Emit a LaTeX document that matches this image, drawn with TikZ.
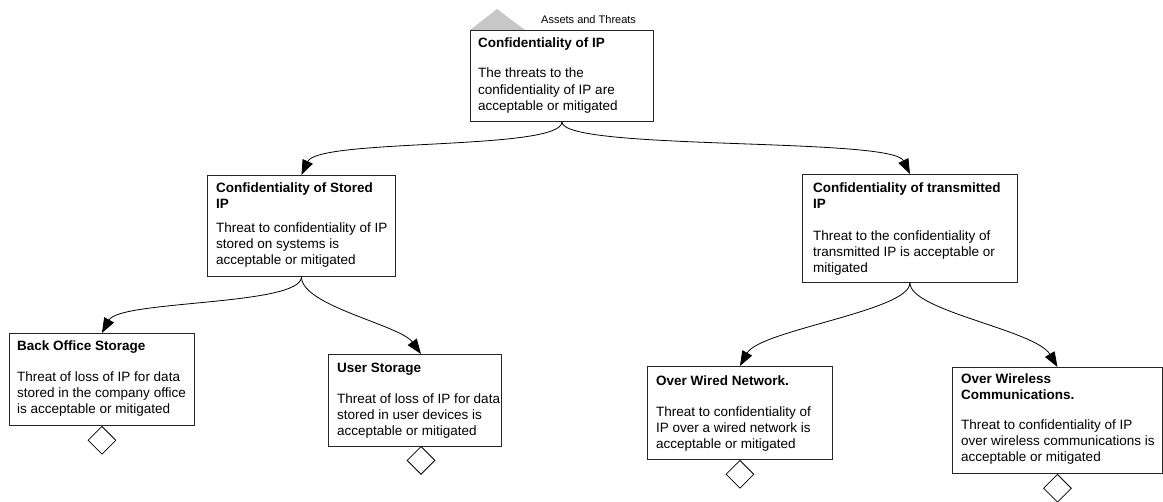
\documentclass[tikz,border=0pt]{standalone}
\usepackage{fontspec}
\setmainfont{Liberation Sans}
\usetikzlibrary{arrows.meta,shapes.geometric}
\begin{document}
\begin{tikzpicture}[x=1pt,y=-1pt,
  goalbox/.style={draw=black!85, line width=0.9pt, fill=white, inner sep=0pt, anchor=north west},
  % text nodes are placed by the baseline of their last line
  head/.style={anchor=base west, inner sep=0pt, align=left,
    font=\fontsize{13.5}{16}\selectfont\bfseries},
  body/.style={anchor=base west, inner sep=0pt, align=left,
    font=\fontsize{13.5}{16}\selectfont},
  link/.style={line width=0.8pt, -{Triangle[length=15pt,width=11pt]}},
  gate/.style={draw=black, diamond, aspect=1, line width=0.8pt, fill=white,
    minimum width=28pt, minimum height=28pt, inner sep=0pt, anchor=north}
]
\useasboundingbox (0,0) rectangle (1163,502);

% tab marker and caption above the root goal
\fill[black!22] (470,30) -- (497,9) -- (525,30) -- cycle;
\node[anchor=base west, inner sep=0pt, font=\fontsize{11}{13}\selectfont] (cap) at (541,24) {Assets and Threats};

% goal boxes
\node[goalbox, minimum width=183pt, minimum height=91pt]  (g0) at (470,30)  {};
\node[goalbox, minimum width=188pt, minimum height=101pt] (g1) at (207,175) {};
\node[goalbox, minimum width=215pt, minimum height=108pt] (g2) at (802,174) {};
\node[goalbox, minimum width=185pt, minimum height=92pt]  (g3) at (9,333)   {};
\node[goalbox, minimum width=173pt, minimum height=92pt]  (g4) at (328,354) {};
\node[goalbox, minimum width=185pt, minimum height=93pt]  (g5) at (647,366) {};
\node[goalbox, minimum width=210pt, minimum height=106pt] (g6) at (952,367) {};

% box texts
\node[head] (h0) at (478,47.7) {Confidentiality of IP};
\node[body, font=\fontsize{13.5}{16.7}\selectfont] (b0) at (478,111)
  {The threats to the\\confidentiality of IP are\\acceptable or mitigated};

\node[head] (h1) at (216,208.5) {Confidentiality of Stored\\IP};
\node[body] (b1) at (216,264.5) {Threat to confidentiality of IP\\stored on systems is\\acceptable or mitigated};

\node[head] (h2) at (813,209) {Confidentiality of transmitted\\IP};
\node[body] (b2) at (813,272.5) {Threat to the confidentiality of\\transmitted IP is acceptable or\\mitigated};

\node[head] (h3) at (17,350.7) {Back Office Storage};
\node[body] (b3) at (17,414) {Threat of loss of IP for data\\stored in the company office\\is acceptable or mitigated};

\node[head] (h4) at (337,372.7) {User Storage};
\node[body] (b4) at (337,436) {Threat of loss of IP for data\\stored in user devices is\\acceptable or mitigated};

\node[head] (h5) at (656,386) {Over Wired Network.};
\node[body] (b5) at (656,448.3) {Threat to confidentiality of\\IP over a wired network is\\acceptable or mitigated};

\node[head] (h6) at (961,400) {Over Wireless\\Communications.};
\node[body] (b6) at (961,461.7) {Threat to confidentiality of IP\\over wireless communications is\\acceptable or mitigated};

% undeveloped-goal diamonds
\node[gate] (d3) at (g3.south) {};
\node[gate] (d4) at (421,446) {};
\node[gate] (d5) at (g5.south) {};
\node[gate] (d6) at (g6.south) {};

% decomposition links
\draw[link] (g0.south) .. controls +(0,29) and +(17,-37) .. (g1.north);
\draw[link] (g0.south) .. controls +(0,29) and +(-18,-37) .. (g2.north);
\draw[link] (g1.south) .. controls +(0,29) and +(18,-33) .. (g3.north);
\draw[link] (g1.south) .. controls +(0,29) and +(-21,-29) .. (d4 |- g4.north);
\draw[link] (g2.south) .. controls +(0,28) and +(20,-36) .. (g5.north);
\draw[link] (g2.south) .. controls +(0,28) and +(-22,-37) .. (g6.north);
\end{tikzpicture}
\end{document}
